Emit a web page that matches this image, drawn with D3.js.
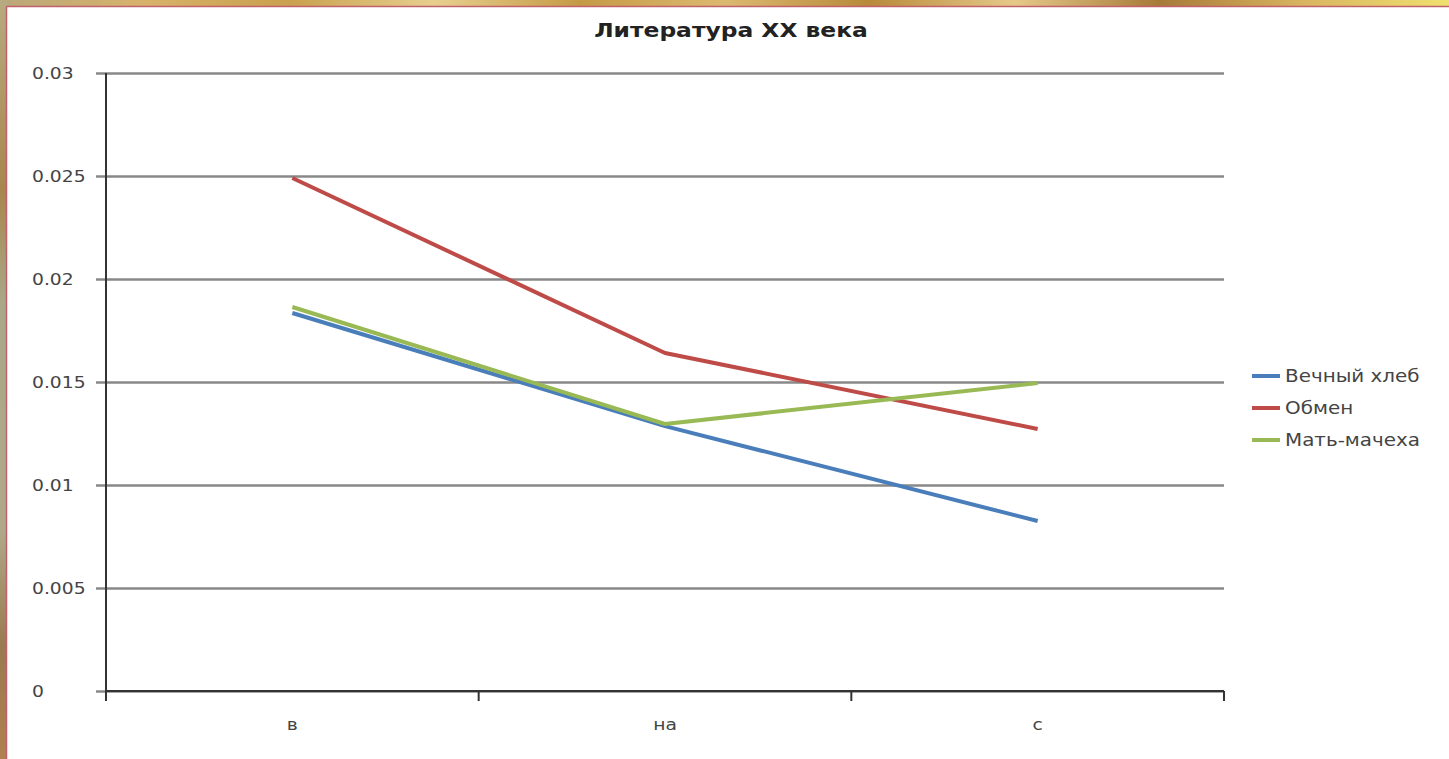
<!DOCTYPE html>
<html><head><meta charset="utf-8">
<script src="https://cdn.jsdelivr.net/npm/d3@7"></script>
<style>html,body{margin:0;padding:0;overflow:hidden;background:#fff}</style>
</head><body>
<svg id="c" width="1449" height="759"></svg>
<script>
const categories = ["в", "на", "с"];
const seriesNames = ["Вечный хлеб", "Обмен", "Мать-мачеха"];
const vechnyHleb = [0.01835, 0.01286, 0.00825];
const obmen = [0.0249, 0.01641, 0.01272];
const matMacheha = [0.01864, 0.01296, 0.01495];
const yTicks = [0, 0.005, 0.01, 0.015, 0.02, 0.025, 0.03];
const colors = ["#4A7EBB", "#BE4B48", "#98B954"];
const title = "Литература XX века";

(function(){
const series = [vechnyHleb, obmen, matMacheha];
const svg = d3.select("#c");
const W = 1449, H = 759;
const SX = 1.17;

// background texture approximation
const defs = svg.append("defs");
const gTop = defs.append("linearGradient").attr("id","gt").attr("x1","0").attr("x2","1");
[["0","#b9a77a"],["0.1","#d8b26a"],["0.2","#c9a04e"],["0.3","#e8cf8f"],["0.4","#c59a45"],["0.5","#dcb970"],["0.6","#b88a3a"],["0.7","#e6c98a"],["0.8","#a77a38"],["0.9","#d9b560"],["1","#f0e070"]]
  .forEach(s=>gTop.append("stop").attr("offset",s[0]).attr("stop-color",s[1]));
const gLeft = defs.append("linearGradient").attr("id","gl").attr("x1","0").attr("x2","0").attr("y1","0").attr("y2","1");
[["0","#b8aa80"],["0.25","#a9864e"],["0.4","#a8a888"],["0.7","#b0a888"],["0.85","#9a7a50"],["1","#b08050"]]
  .forEach(s=>gLeft.append("stop").attr("offset",s[0]).attr("stop-color",s[1]));
svg.append("rect").attr("x",0).attr("y",0).attr("width",W).attr("height",7).attr("fill","url(#gt)");
svg.append("rect").attr("x",0).attr("y",0).attr("width",7).attr("height",H).attr("fill","url(#gl)");
svg.append("rect").attr("x",7).attr("y",7).attr("width",W-7).attr("height",H-7).attr("fill","#ffffff");
svg.append("line").attr("x1",6.5).attr("x2",W).attr("y1",6.5).attr("y2",6.5).attr("stroke","#c0606c").attr("stroke-width",1.5);
svg.append("line").attr("x1",6.5).attr("x2",6.5).attr("y1",6.5).attr("y2",H).attr("stroke","#c0606c").attr("stroke-width",1.5);

const pl = 106, pr = 1224, pt = 73, pb = 691;
const x = d3.scaleBand().domain(categories).range([pl, pr]);
const y = d3.scaleLinear().domain([0, 0.03]).range([pb, pt]);

const font = "'DejaVu Sans', 'Noto Sans', sans-serif";

function txt(g, tx, ty, s, size, anchor, weight, fill){
  return g.append("text").attr("transform",`translate(${tx},${ty}) scale(${SX},1)`)
    .attr("text-anchor",anchor).attr("fill",fill||"#444")
    .style("font-family",font).style("font-size",size+"px").style("font-weight",weight||"normal").text(s);
}

// gridlines + y ticks
const yAxis = d3.axisLeft(y).tickValues(yTicks).tickSize(-(pr-pl)).tickFormat(()=>"");
const ya = svg.append("g").attr("transform",`translate(${pl},0)`).call(yAxis);
ya.select(".domain").remove();
ya.selectAll(".tick text").remove();
ya.selectAll(".tick line").attr("stroke","#888").attr("stroke-width",2.5).attr("x1",-10);
yTicks.forEach(v=>{
  txt(svg, 32, y(v)+6, v === 0 ? "0" : String(+v.toFixed(3)), 16, "start");
});

// vertical axis line
svg.append("line").attr("x1",pl).attr("x2",pl).attr("y1",pt).attr("y2",pb+10).attr("stroke","#333").attr("stroke-width",2);
// x axis
svg.append("line").attr("x1",pl).attr("x2",pr).attr("y1",pb).attr("y2",pb).attr("stroke","#333").attr("stroke-width",2);
const xTickPos = categories.map(c => x(c)).concat([pr]);
svg.selectAll(".xt").data(xTickPos).enter().append("line")
  .attr("x1",d=>d).attr("x2",d=>d).attr("y1",pb).attr("y2",pb+10).attr("stroke","#333").attr("stroke-width",2);
categories.forEach(c=>{
  txt(svg, x(c)+x.bandwidth()/2, 730, c, 16, "middle");
});

// lines
const line = d3.line().x((d,i)=>x(categories[i])+x.bandwidth()/2).y(d=>y(d));
series.forEach((s,i)=>{
  svg.append("path").datum(s).attr("d",line).attr("fill","none")
    .attr("stroke",colors[i]).attr("stroke-width",4).attr("stroke-linejoin","round");
});

// title
txt(svg, 731, 37, title, 20, "middle", "bold", "#222");

// legend
seriesNames.forEach((n,i)=>{
  const ly = 376 + i*32;
  svg.append("line").attr("x1",1252).attr("x2",1280).attr("y1",ly).attr("y2",ly).attr("stroke",colors[i]).attr("stroke-width",4);
  txt(svg, 1285, ly+6, n, 17, "start");
});
})();
</script>
</body></html>
